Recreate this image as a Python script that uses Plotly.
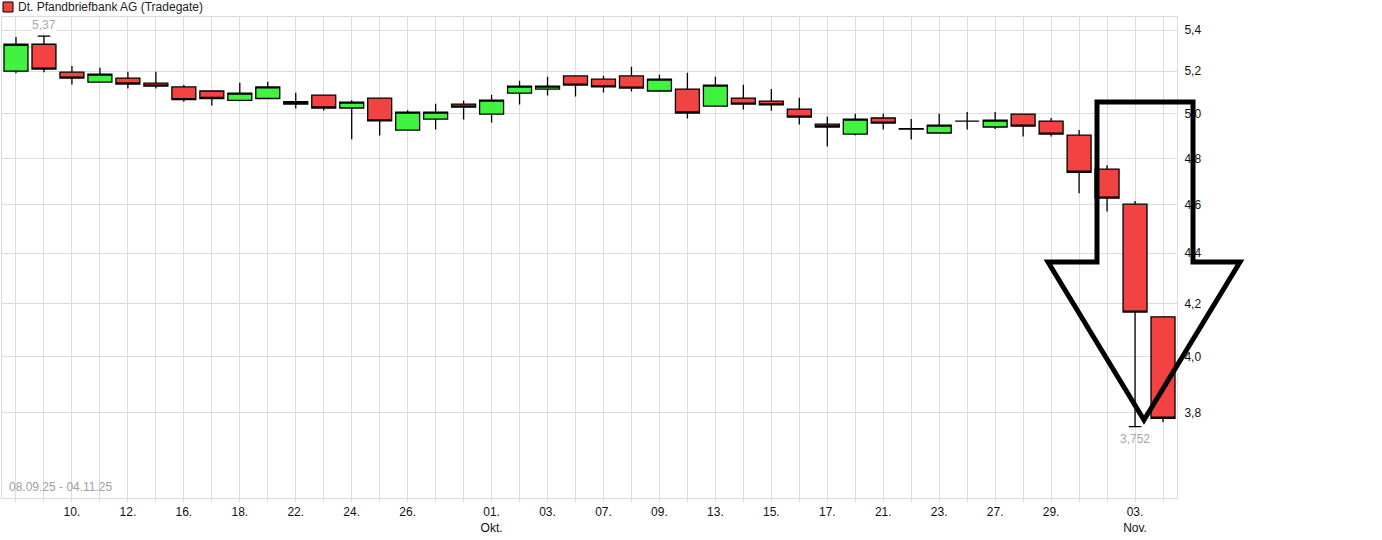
import math
import plotly.graph_objects as go

title = "Dt. Pfandbriefbank AG (Tradegate)"
period = "08.09.25 - 04.11.25"

dates = [
    "08.09.25", "09.09.25", "10.09.25", "11.09.25", "12.09.25",
    "15.09.25", "16.09.25", "17.09.25", "18.09.25", "19.09.25",
    "22.09.25", "23.09.25", "24.09.25", "25.09.25", "26.09.25",
    "29.09.25", "30.09.25", "01.10.25", "02.10.25", "03.10.25",
    "06.10.25", "07.10.25", "08.10.25", "09.10.25", "10.10.25",
    "13.10.25", "14.10.25", "15.10.25", "16.10.25", "17.10.25",
    "20.10.25", "21.10.25", "22.10.25", "23.10.25", "24.10.25",
    "27.10.25", "28.10.25", "29.10.25", "30.10.25", "31.10.25",
    "03.11.25", "04.11.25",
]

open_ = [5.200, 5.330, 5.195, 5.148, 5.167, 5.143, 5.125, 5.106, 5.062, 5.071,
         5.056, 5.087, 5.027, 5.073, 4.926, 4.976, 5.045, 4.999, 5.096, 5.115,
         5.177, 5.162, 5.177, 5.106, 5.115, 5.036, 5.073, 5.059, 5.022, 4.953,
         4.908, 4.981, 4.932, 4.913, 4.967, 4.940, 4.999, 4.967, 4.903, 4.753,
         4.602, 4.150]
high = [5.365, 5.370, 5.225, 5.216, 5.197, 5.197, 5.134, 5.106, 5.145, 5.150,
        5.098, 5.087, 5.063, 5.073, 5.017, 5.047, 5.060, 5.088, 5.154, 5.173,
        5.177, 5.178, 5.221, 5.183, 5.192, 5.173, 5.135, 5.116, 5.074, 4.987,
        5.000, 5.000, 4.976, 5.000, 5.008, 5.009, 4.999, 4.981, 4.927, 4.770,
        4.616, 4.150]
low = [5.190, 5.195, 5.137, 5.147, 5.118, 5.118, 5.056, 5.039, 5.058, 5.071,
       5.025, 5.016, 4.885, 4.902, 4.926, 4.929, 4.974, 4.961, 5.043, 5.085,
       5.080, 5.099, 5.104, 5.106, 4.979, 5.036, 5.020, 5.014, 4.951, 4.852,
       4.903, 4.929, 4.884, 4.913, 4.929, 4.931, 4.897, 4.897, 4.648, 4.571,
       3.752, 3.767]
close = [5.330, 5.210, 5.167, 5.186, 5.139, 5.129, 5.066, 5.071, 5.096, 5.125,
         5.045, 5.027, 5.054, 4.968, 5.008, 5.008, 5.031, 5.063, 5.129, 5.129,
         5.134, 5.125, 5.120, 5.162, 5.004, 5.134, 5.045, 5.041, 4.985, 4.940,
         4.976, 4.958, 4.930, 4.949, 4.967, 4.971, 4.944, 4.908, 4.739, 4.628,
         4.168, 3.781]

# x tick labels (empty where the reference shows none)
x_labels = ["", "", "10.", "", "12.", "", "16.", "", "18.", "",
            "22.", "", "24.", "", "26.", "", "", "01.<br>Okt.", "", "03.",
            "", "07.", "", "09.", "", "13.", "", "15.", "", "17.",
            "", "21.", "", "23.", "", "27.", "", "29.", "", "",
            "03.<br>Nov.", ""]

y_ticks = [3.8, 4.0, 4.2, 4.4, 4.6, 4.8, 5.0, 5.2, 5.4]
y_range = [3.514, 5.465]

GREEN = "#41F241"
RED = "#F24242"
GRID = "#DCDCDC"
FONT = "Liberation Sans, Arial, sans-serif"

fig = go.Figure()
fig.add_trace(go.Candlestick(
    x=dates, open=open_, high=high, low=low, close=close,
    increasing=dict(fillcolor=GREEN, line=dict(color="black", width=1.3)),
    decreasing=dict(fillcolor=RED, line=dict(color="black", width=1.3)),
    whiskerwidth=0, showlegend=False, hoverinfo="skip",
))

# caps at the period high / low
i_hi = high.index(max(high))
i_lo = low.index(min(low))
fig.add_trace(go.Scatter(
    x=[dates[i_hi], dates[i_lo]], y=[high[i_hi], low[i_lo]], mode="markers",
    marker=dict(symbol="line-ew", size=9, line=dict(color="black", width=1.3)),
    showlegend=False, hoverinfo="skip",
))

def fmt(v):
    s = ("%.3f" % v).rstrip("0").rstrip(".")
    return s.replace(".", ",")

# plot area in pixels: x 2..1177, y 17..498
def px(xp):
    return (xp - 2) / 1175.0

def py(yp):
    return (498 - yp) / 481.0

ann = [
    dict(x=dates[i_hi], y=math.log10(high[i_hi]), xref="x", yref="y",
         text=fmt(high[i_hi]), showarrow=False, yanchor="bottom", yshift=3,
         font=dict(family=FONT, size=12, color="#A8A8A8"), bgcolor="white",
         borderpad=0),
    dict(x=dates[i_lo], y=math.log10(low[i_lo]), xref="x", yref="y",
         text=fmt(low[i_lo]), showarrow=False, yanchor="top", yshift=-3,
         font=dict(family=FONT, size=12, color="#A8A8A8")),
    dict(x=px(7), y=py(487), xref="paper", yref="paper", xanchor="left",
         yanchor="middle", text=period, showarrow=False,
         font=dict(family=FONT, size=12, color="#A0A0A0")),
    dict(x=px(16), y=py(7), xref="paper", yref="paper", xanchor="left",
         yanchor="middle", text=title, showarrow=False,
         font=dict(family=FONT, size=12, color="#222222")),
]

arrow_pts = [(1097, 102), (1193, 102), (1193, 262), (1240, 262),
             (1144, 420), (1048, 262), (1097, 262)]
path = "M " + " L ".join("%.5f,%.5f" % (px(a), py(b)) for a, b in arrow_pts) + " Z"

shapes = [
    dict(type="path", xref="paper", yref="paper", path=path,
         line=dict(color="black", width=5), fillcolor="rgba(0,0,0,0)",
         layer="above"),
    dict(type="rect", xref="paper", yref="paper",
         x0=px(3), x1=px(13), y0=py(12), y1=py(2),
         line=dict(color="black", width=1), fillcolor=RED),
]

fig.update_layout(
    width=1382, height=540,
    margin=dict(l=2, r=205, t=17, b=42),
    paper_bgcolor="white", plot_bgcolor="white",
    separators=",.",
    boxgap=0.143, boxgroupgap=0,
    font=dict(family=FONT, size=12, color="#111111"),
    annotations=ann, shapes=shapes,
    xaxis=dict(
        type="category", range=[-0.5, len(dates) - 0.5],
        rangeslider=dict(visible=False),
        tickmode="array", tickvals=dates, ticktext=x_labels,
        showgrid=True, gridcolor=GRID, gridwidth=1,
        showline=True, linecolor=GRID, linewidth=1, mirror=True,
        ticks="outside", ticklen=3, tickcolor=GRID,
        tickfont=dict(family=FONT, size=12, color="#111111"),
        zeroline=False, fixedrange=True,
    ),
    yaxis=dict(
        type="log", side="right",
        range=[math.log10(y_range[0]), math.log10(y_range[1])],
        tickmode="array", tickvals=y_ticks,
        tickformat=".1f",
        showgrid=True, gridcolor=GRID, gridwidth=1,
        showline=True, linecolor=GRID, linewidth=1, mirror=True,
        ticks="", ticklabelstandoff=4,
        tickfont=dict(family=FONT, size=12, color="#111111"),
        zeroline=False, fixedrange=True,
    ),
)

fig.write_html("out.html", config={"displayModeBar": False},
               post_script="document.body.style.margin='0';")
